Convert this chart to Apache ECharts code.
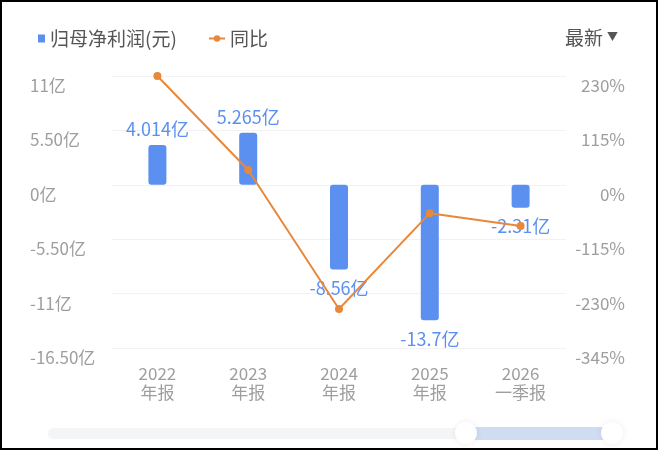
<!DOCTYPE html>
<html>
<head>
<meta charset="utf-8">
<script src="https://cdn.jsdelivr.net/npm/echarts@6/dist/echarts.min.js"></script>
<style>
html,body{margin:0;padding:0;background:#fff;}
#wrap{position:relative;width:658px;height:450px;}
#chart{position:absolute;left:0;top:0;width:658px;height:450px;}
#frame{position:absolute;left:0;top:0;width:658px;height:450px;box-sizing:border-box;border:2px solid #000;pointer-events:none;}
</style>
</head>
<body>
<div id="wrap"><div id="chart"></div><div id="frame"></div></div>
<script>
var categories = ['2022\n年报', '2023\n年报', '2024\n年报', '2025\n年报', '2026\n一季报'];
var profitValues = [4.014, 5.265, -8.56, -13.7, -2.31];
var profitLabels = ['4.014亿', '5.265亿', '-8.56亿', '-13.7亿', '-2.31亿'];
var yoyValues = [230, 31.2, -262.6, -60.0, -87];
var leftTicks = [11, 5.5, 0, -5.5, -11, -16.5];
var leftTickLabels = ['11亿', '5.50亿', '0亿', '-5.50亿', '-11亿', '-16.50亿'];
var rightTicks = [230, 115, 0, -115, -230, -345];
var rightTickLabels = ['230%', '115%', '0%', '-115%', '-230%', '-345%'];

var FONT = '"Noto Sans CJK SC", "Noto Sans", sans-serif';
var BLUE = '#5B8FF0';
var ORANGE = '#E8883A';
var AXIS_GRAY = '#9e9e9e';
var TEXT_GRAY = '#555';

function lookup(ticks, labels, v) {
  for (var i = 0; i < ticks.length; i++) {
    if (Math.abs(ticks[i] - v) < 1e-6) return labels[i];
  }
  return '';
}

var chart = echarts.init(document.getElementById('chart'));
chart.setOption({
  animation: false,
  textStyle: { fontFamily: FONT },
  legend: [
    {
      left: 33, top: 24, itemWidth: 7, itemHeight: 8,
      textStyle: { fontSize: 19, color: TEXT_GRAY, fontFamily: FONT },
      data: [{ name: '归母净利润(元)', icon: 'rect' }]
    },
    {
      left: 203, top: 24, itemWidth: 16, itemHeight: 8,
      textStyle: { fontSize: 19, color: TEXT_GRAY, fontFamily: FONT },
      data: [{ name: '同比' }]
    }
  ],
  title: {
    text: '{a|最新} {b|▼}', right: 35, top: 23,
    textStyle: {
      fontWeight: 'normal',
      rich: {
        a: { fontSize: 19, color: TEXT_GRAY, fontFamily: FONT, fontWeight: 'normal' },
        b: { fontSize: 11, color: TEXT_GRAY, fontFamily: FONT, fontWeight: 'normal', padding: [0, 0, 2, 0] }
      }
    }
  },
  grid: { left: 112, right: 92, top: 76, bottom: 102 },
  xAxis: {
    type: 'category',
    data: categories,
    axisLine: { show: false },
    axisTick: { show: false },
    axisLabel: { color: AXIS_GRAY, fontSize: 17, lineHeight: 19, margin: 16, fontFamily: FONT }
  },
  yAxis: [
    {
      type: 'value', min: -16.5, max: 11, interval: 5.5,
      axisLine: { show: false }, axisTick: { show: false },
      splitLine: { lineStyle: { color: '#f2f2f2', width: 1 } },
      axisLabel: {
        color: AXIS_GRAY, fontSize: 17, align: 'left', margin: 82,
        verticalAlign: 'top', padding: [1, 0, 0, 0], fontFamily: FONT,
        formatter: function (v) { return lookup(leftTicks, leftTickLabels, v); }
      }
    },
    {
      type: 'value', min: -345, max: 230, interval: 115,
      axisLine: { show: false }, axisTick: { show: false },
      splitLine: { show: false },
      axisLabel: {
        color: AXIS_GRAY, fontSize: 17, align: 'right', margin: 59,
        verticalAlign: 'top', padding: [1, 0, 0, 0], fontFamily: FONT,
        formatter: function (v) { return lookup(rightTicks, rightTickLabels, v); }
      }
    }
  ],
  series: [
    {
      name: '归母净利润(元)',
      type: 'bar',
      yAxisIndex: 0,
      barWidth: 18,
      itemStyle: { color: BLUE, borderRadius: 3 },
      data: profitValues.map(function (v, i) {
        return {
          value: v,
          label: {
            show: true,
            position: v >= 0 ? 'top' : 'bottom',
            distance: v >= 0 ? 7 : 10,
            formatter: profitLabels[i],
            color: BLUE, fontSize: 18, fontFamily: FONT
          }
        };
      })
    },
    {
      name: '同比',
      type: 'line',
      yAxisIndex: 1,
      data: yoyValues,
      symbol: 'circle',
      symbolSize: 8,
      clip: false,
      lineStyle: { color: ORANGE, width: 2 },
      itemStyle: { color: ORANGE },
      z: 5
    }
  ],
  graphic: [
    { type: 'rect', shape: { x: 48, y: 428, width: 564, height: 11, r: 5 }, style: { fill: '#f4f5f7' } },
    { type: 'rect', shape: { x: 474, y: 427, width: 130, height: 13 }, style: { fill: '#d0dcf2' } },
    { type: 'circle', shape: { cx: 466, cy: 433, r: 11 }, style: { fill: '#fff', shadowBlur: 6, shadowColor: 'rgba(0,0,0,0.08)' } },
    { type: 'circle', shape: { cx: 612, cy: 433, r: 11 }, style: { fill: '#fff', shadowBlur: 6, shadowColor: 'rgba(0,0,0,0.08)' } }
  ]
});
</script>
</body>
</html>
